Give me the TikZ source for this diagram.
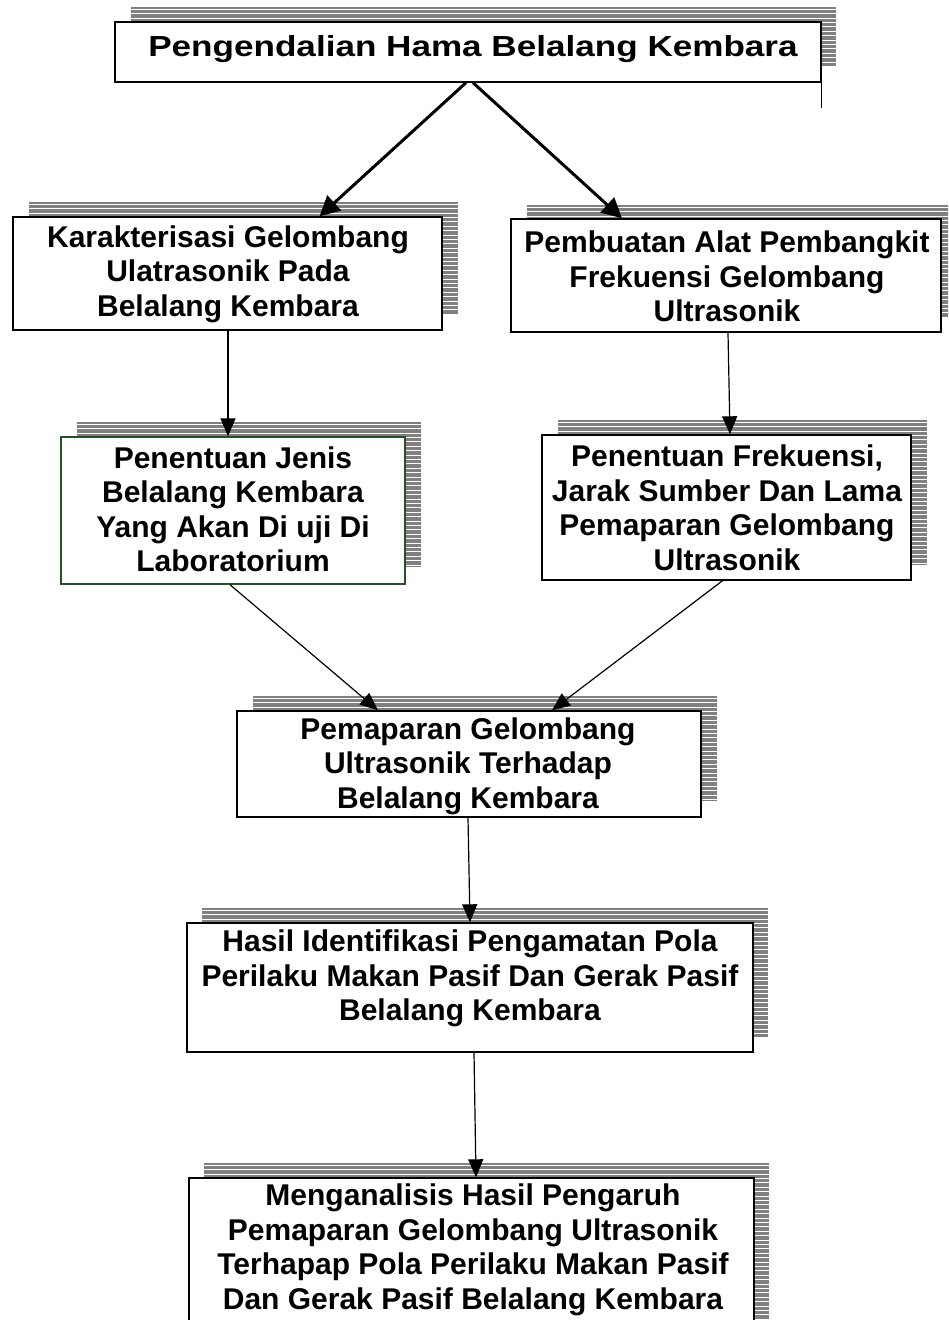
\documentclass[tikz,border=0pt]{standalone}
\usepackage{fontspec}
\setmainfont{Liberation Sans}
\newfontfamily\titlefont[FakeStretch=1.21]{Liberation Sans}
\usetikzlibrary{arrows.meta}
\definecolor{shadowgray}{RGB}{128,128,128}
\definecolor{boxgreen}{RGB}{40,80,40}
\newcommand\stripeshadow[4]{%
  \begin{scope}
    \clip (#1,#2) rectangle (#3,#4);
    \fill[shadowgray] (#1,#2) rectangle (#3,#4);
    \foreach \i in {0,...,45} \draw[white,line width=0.9pt] (#1,{#2+2.2+\i*4.4}) -- (#3,{#2+2.2+\i*4.4});
  \end{scope}}
\begin{document}
\begin{tikzpicture}[x=1pt,y=-1pt,
  boxst/.style={draw=black,line width=1.4pt,fill=white,rectangle,inner sep=0pt},
  txt/.style={align=center,font=\fontsize{30}{34.5}\selectfont\bfseries,inner sep=0pt},
  titletxt/.style={align=center,font=\titlefont\fontsize{29}{34.5}\selectfont\bfseries,inner sep=0pt},
  thinarrow/.style={line width=1.2pt,-{Triangle[length=18pt,width=15pt]}},
  thickarrow/.style={line width=3pt,-{Triangle[length=20pt,width=20pt]}}]
\useasboundingbox (0,0) rectangle (948,1320);
\clip (0,0) rectangle (948,1320);
% shadows
\stripeshadow{131}{7}{836}{67}
\stripeshadow{29}{202}{458}{315}
\stripeshadow{527}{205}{957}{318}
\stripeshadow{77}{422}{421}{567}
\stripeshadow{558}{420}{927}{565}
\stripeshadow{253}{696}{717}{801}
\stripeshadow{202}{908}{768}{1037}
\stripeshadow{204}{1163}{769}{1325}
% boxes
\node[boxst,minimum width=706pt,minimum height=60pt] (title) at (468,52) {};
\node[boxst,minimum width=429pt,minimum height=113pt] (b2) at (227.5,273.5) {};
\node[boxst,minimum width=430pt,minimum height=113pt] (b3) at (726,275.5) {};
\node[boxst,draw=boxgreen,minimum width=344pt,minimum height=147pt] (b4) at (233,510.5) {};
\node[boxst,minimum width=369pt,minimum height=145pt] (b5) at (726.5,507.5) {};
\node[boxst,minimum width=464pt,minimum height=106pt] (b6) at (469,764) {};
\node[boxst,minimum width=566pt,minimum height=129pt] (b7) at (470,987.5) {};
\node[boxst,minimum width=565pt,minimum height=162pt] (b8) at (471.5,1259) {};
% texts
\node[titletxt] (t1) at (473,49) {Pengendalian Hama Belalang Kembara};
\node[txt] (t2) at (228,274) {Karakterisasi Gelombang\\Ulatrasonik Pada\\Belalang Kembara};
\node[txt] (t3) at (727,276.5) {Pembuatan Alat Pembangkit\\Frekuensi Gelombang\\Ultrasonik};
\node[txt] (t4) at (233,509.5) {Penentuan Jenis\\Belalang Kembara\\Yang Akan Di uji Di\\Laboratorium};
\node[txt] (t5) at (727,508) {Penentuan Frekuensi,\\Jarak Sumber Dan Lama\\Pemaparan Gelombang\\Ultrasonik};
\node[txt] (t6) at (468,766) {Pemaparan Gelombang\\Ultrasonik Terhadap\\Belalang Kembara};
\node[txt] (t7) at (470,978.5) {Hasil Identifikasi Pengamatan Pola\\Perilaku Makan Pasif Dan Gerak Pasif\\Belalang Kembara};
\node[txt] (t8) at (473,1250) {Menganalisis Hasil Pengaruh\\Pemaparan Gelombang Ultrasonik\\Terhapap Pola Perilaku Makan Pasif\\Dan Gerak Pasif Belalang Kembara};
% stray line
\coordinate (tail) at ([yshift=-25pt]title.south east);
\draw[line width=1.4pt] (title.south east) -- (tail);
% arrows
\draw[thickarrow] ([xshift=-2pt]title.south) -- ([xshift=92pt]b2.north);
\draw[thickarrow] ([xshift=5pt]title.south) -- ([xshift=-104pt]b3.north);
\draw[thinarrow] ([xshift=0.5pt]b2.south) -- ([xshift=-5pt]b4.north);
\draw[thinarrow] ([xshift=2pt]b3.south) -- ([xshift=3.5pt]b5.north);
\draw[thinarrow] ([xshift=-3pt]b4.south) -- ([xshift=-91pt]b6.north);
\draw[thinarrow] ([xshift=-4pt]b5.south) -- ([xshift=83pt]b6.north);
\draw[thinarrow] ([xshift=-1pt]b6.south) -- ([xshift=0pt]b7.north);
\draw[thinarrow] ([xshift=4pt]b7.south) -- ([xshift=4.5pt]b8.north);
\end{tikzpicture}
\end{document}
